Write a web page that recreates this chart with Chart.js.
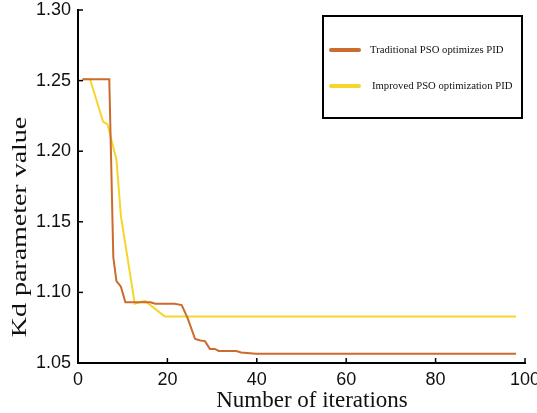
<!DOCTYPE html>
<html>
<head>
<meta charset="utf-8">
<script src="https://cdn.jsdelivr.net/npm/chart.js@4"></script>
<style>
  body { margin: 0; background: #fff; }
  canvas { display: block; }
</style>
</head>
<body>
<canvas id="myChart" width="537" height="413"></canvas>
<script>
// series (iteration, Kd)
var iterTrad = [1, 7, 7.9, 8.6, 9.6, 10.6, 16.2, 17.3, 21.6, 23.2, 24.5, 26.2, 27.4, 28.4, 29.5, 30.6, 31.5, 35.4, 36.5, 39.8, 98];
var kdTrad   = [1.251, 1.251, 1.125, 1.108, 1.104, 1.093, 1.093, 1.092, 1.092, 1.091, 1.082, 1.067, 1.066, 1.0655, 1.060, 1.060, 1.0585, 1.0585, 1.0574, 1.0565, 1.0565];

var iterImp = [1, 2.7, 5.6, 6.6, 8.6, 9.6, 12.7, 13.8, 15, 19.4, 98];
var kdImp   = [1.251, 1.251, 1.221, 1.219, 1.194, 1.154, 1.092, 1.093, 1.094, 1.083, 1.083];

var xTicks = [0, 20, 40, 60, 80, 100];
var yTicks = [1.05, 1.10, 1.15, 1.20, 1.25, 1.30];

var labelTrad = 'Traditional PSO optimizes PID';
var labelImp = 'Improved PSO optimization PID';
var xTitle = 'Number of iterations';
var yTitle = 'Kd parameter value';

var orange = 'rgb(204, 107, 46)';
var yellow = 'rgb(246, 214, 44)';

function toPoints(xs, ys) {
    return xs.map(function(x, i) { return { x: x, y: ys[i] }; });
}

// inward ticks, axis titles and the boxed legend
var extras = {
    id: 'extras',
    afterDraw: function(chart) {
        var ctx = chart.ctx;
        var xs = chart.scales.x, ys = chart.scales.y;
        ctx.save();
        ctx.strokeStyle = '#000';
        ctx.lineWidth = 1.5;
        xTicks.forEach(function(v) {
            var px = xs.getPixelForValue(v);
            ctx.beginPath();
            ctx.moveTo(px, xs.top);
            ctx.lineTo(px, xs.top - 5);
            ctx.stroke();
        });
        yTicks.forEach(function(v) {
            var py = ys.getPixelForValue(v);
            ctx.beginPath();
            ctx.moveTo(ys.right, py);
            ctx.lineTo(ys.right + 5, py);
            ctx.stroke();
        });

        ctx.fillStyle = '#111';
        ctx.textAlign = 'center';
        ctx.textBaseline = 'alphabetic';
        ctx.font = '23px "Liberation Serif"';
        ctx.fillText(xTitle, 312, 407);

        ctx.save();
        ctx.translate(26, 227);
        ctx.rotate(-Math.PI / 2);
        ctx.scale(1.3, 1);
        ctx.font = '21.5px "Liberation Serif"';
        ctx.fillText(yTitle, 0, 0);
        ctx.restore();

        // legend
        ctx.lineWidth = 2;
        ctx.strokeStyle = '#000';
        ctx.strokeRect(323, 16, 199, 102);
        var rows = [50, 86];
        chart.data.datasets.forEach(function(ds, i) {
            ctx.beginPath();
            ctx.lineCap = 'round';
            ctx.lineWidth = 4;
            ctx.strokeStyle = ds.borderColor;
            ctx.moveTo(331, rows[i]);
            ctx.lineTo(359, rows[i]);
            ctx.stroke();
            ctx.fillStyle = '#111';
            ctx.textAlign = 'left';
            ctx.textBaseline = 'middle';
            ctx.font = '10.7px "Liberation Serif"';
            ctx.fillText(ds.label, 370 + i * 2, rows[i]);
        });
        ctx.restore();
    }
};

var ctx = document.getElementById('myChart').getContext('2d');
var myChart = new Chart(ctx, {
    type: 'line',
    data: {
        datasets: [
            {
                label: labelTrad,
                data: toPoints(iterTrad, kdTrad),
                borderColor: orange,
                borderWidth: 2,
                pointRadius: 0,
                tension: 0,
                fill: false
            },
            {
                label: labelImp,
                data: toPoints(iterImp, kdImp),
                borderColor: yellow,
                borderWidth: 2,
                pointRadius: 0,
                tension: 0,
                fill: false
            }
        ]
    },
    options: {
        responsive: false,
        animation: false,
        layout: { padding: { top: 10, right: 12, left: 0, bottom: 0 } },
        scales: {
            x: {
                type: 'linear',
                min: 0,
                max: 100,
                afterFit: function(scale) {
                    scale.height = 50;
                    scale.paddingRight = 0;
                    scale.paddingLeft = 0;
                },
                afterBuildTicks: function(scale) {
                    scale.ticks = xTicks.map(function(v) { return { value: v }; });
                },
                grid: { display: false, drawTicks: false },
                border: { display: true, color: '#000', width: 2 },
                ticks: {
                    color: '#111',
                    padding: 6,
                    maxRotation: 0,
                    font: { family: 'Liberation Sans', size: 18 }
                }
            },
            y: {
                min: 1.05,
                max: 1.30,
                afterFit: function(scale) {
                    scale.width = 78;
                    scale.paddingTop = 0;
                    scale.paddingBottom = 0;
                },
                afterBuildTicks: function(scale) {
                    scale.ticks = yTicks.map(function(v) { return { value: v }; });
                },
                grid: { display: false, drawTicks: false },
                border: { display: true, color: '#000', width: 2 },
                ticks: {
                    color: '#111',
                    padding: 7,
                    font: { family: 'Liberation Sans', size: 18 },
                    callback: function(v) { return Number(v).toFixed(2); }
                }
            }
        },
        plugins: {
            legend: { display: false },
            tooltip: { enabled: false }
        }
    },
    plugins: [extras]
});
</script>
</body>
</html>
